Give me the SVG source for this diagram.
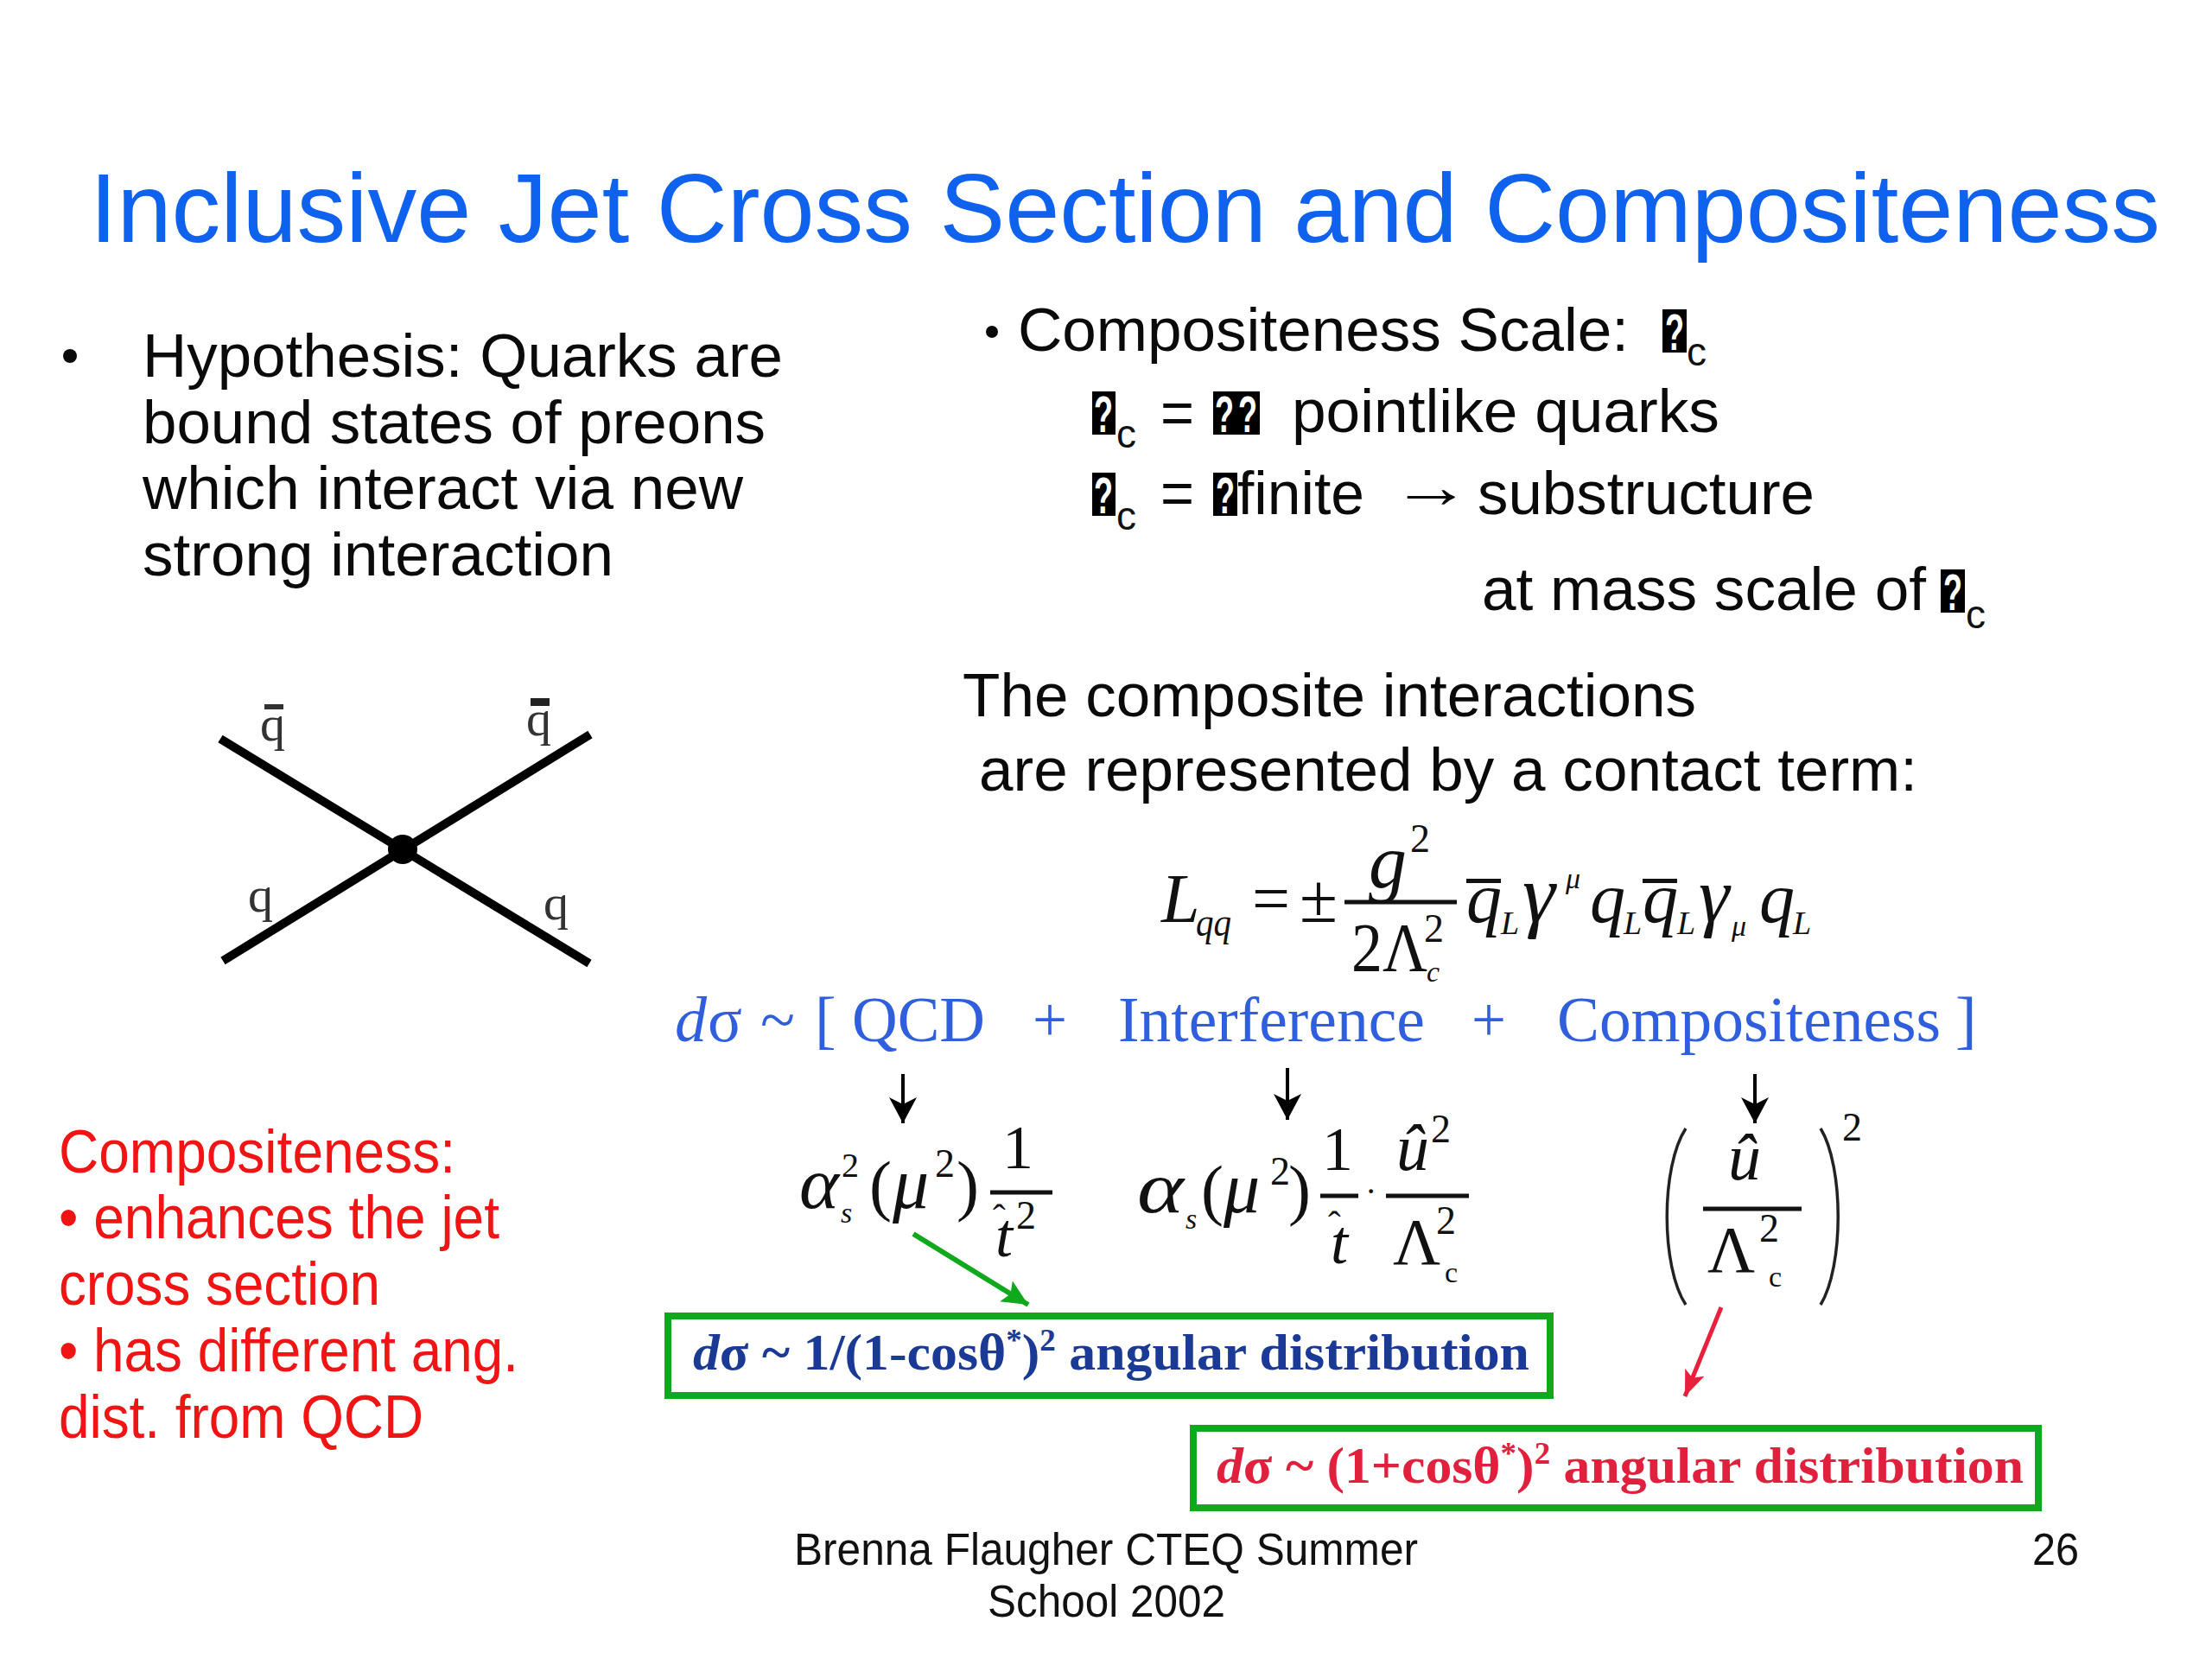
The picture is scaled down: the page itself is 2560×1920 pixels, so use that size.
<svg xmlns="http://www.w3.org/2000/svg" width="2560" height="1920" viewBox="0 0 2560 1920">
<style>
text{font-family:"Liberation Sans",Arial,sans-serif;white-space:pre}
.t{font-size:70px;fill:#0a0a0a}
.r{font-size:70px;fill:#f01414}
.f{font-size:51px;fill:#111}
.sub{font-size:46px;fill:#111}
.b{fill:#0a0a0a}
.q{font-size:60px;fill:#fff;font-weight:bold}
.m{font-size:80px;fill:#111}
.m text,.bl text,.bt{font-family:"Liberation Serif","Times New Roman",serif}
.i{font-style:italic}
.s1{font-size:46px}
.s2{font-size:34px}
.bl{font-size:74px;fill:#2f5fdc}
.box{fill:#fff;stroke:#10a81c;stroke-width:8}
.bt{font-size:60px;font-weight:bold}
.bar{stroke:#111;stroke-width:5;fill:none}
.pn{stroke:#222;stroke-width:3.5;fill:none}
</style>
<defs>
<marker id="ak" markerUnits="userSpaceOnUse" markerWidth="34" markerHeight="40" refX="30" refY="16" orient="auto"><path d="M0 0L30 16L0 32L8 16Z" fill="#000"/></marker>
<marker id="ag" markerUnits="userSpaceOnUse" markerWidth="36" markerHeight="36" refX="30" refY="14" orient="auto"><path d="M0 0L30 14L0 28L6 14Z" fill="#10a81c"/></marker>
<marker id="ar" markerUnits="userSpaceOnUse" markerWidth="34" markerHeight="34" refX="30" refY="12" orient="auto"><path d="M0 0L30 12L0 24L7 12Z" fill="#e8203c"/></marker>
</defs>
<rect width="2560" height="1920" fill="#fff"/>

<g id="title"><text x="104" y="280" font-size="114" fill="#0f62ee" textLength="2396" lengthAdjust="spacingAndGlyphs">Inclusive Jet Cross Section and Compositeness</text></g>

<g id="hypothesis">
<circle class="b" cx="81" cy="412" r="8"/>
<text class="t" x="165" y="436" textLength="741" lengthAdjust="spacingAndGlyphs">Hypothesis: Quarks are</text>
<text class="t" x="165" y="513" textLength="721" lengthAdjust="spacingAndGlyphs">bound states of preons</text>
<text class="t" x="165" y="589" textLength="695" lengthAdjust="spacingAndGlyphs">which interact via new</text>
<text class="t" x="165" y="666" textLength="545" lengthAdjust="spacingAndGlyphs">strong interaction</text>
</g>

<g id="scale">
<circle class="b" cx="1148" cy="384" r="7"/>
<text class="t" x="1178" y="406" textLength="707" lengthAdjust="spacingAndGlyphs">Compositeness Scale:</text>
<rect x="1924" y="358" width="28" height="50" fill="#000"/><text class="q" x="1927" y="405" textLength="22" lengthAdjust="spacingAndGlyphs">?</text>
<text class="sub" x="1952" y="423">c</text>

<rect x="1264" y="453" width="27" height="50" fill="#000"/><text class="q" x="1266" y="500" textLength="22" lengthAdjust="spacingAndGlyphs">?</text>
<text class="sub" x="1292" y="518">c</text>
<text class="t" x="1343" y="502" textLength="39" lengthAdjust="spacingAndGlyphs">=</text>
<rect x="1404" y="453" width="54" height="50" fill="#000"/><text class="q" x="1406" y="500" textLength="22" lengthAdjust="spacingAndGlyphs">?</text><text class="q" x="1433" y="500" textLength="22" lengthAdjust="spacingAndGlyphs">?</text>
<text class="t" x="1495" y="500" textLength="495" lengthAdjust="spacingAndGlyphs">pointlike quarks</text>

<rect x="1264" y="547" width="27" height="50" fill="#000"/><text class="q" x="1266" y="594" textLength="22" lengthAdjust="spacingAndGlyphs">?</text>
<text class="sub" x="1292" y="613">c</text>
<text class="t" x="1343" y="595" textLength="39" lengthAdjust="spacingAndGlyphs">=</text>
<rect x="1404" y="547" width="28" height="50" fill="#000"/><text class="q" x="1407" y="594" textLength="22" lengthAdjust="spacingAndGlyphs">?</text>
<text class="t" x="1432" y="595" textLength="147" lengthAdjust="spacingAndGlyphs">finite</text>
<text class="t" x="1610" y="587" textLength="93" lengthAdjust="spacingAndGlyphs">→</text>
<text class="t" x="1710" y="595" textLength="390" lengthAdjust="spacingAndGlyphs">substructure</text>

<text class="t" x="1715" y="706" textLength="514" lengthAdjust="spacingAndGlyphs">at mass scale of</text>
<rect x="2246" y="659" width="28" height="50" fill="#000"/><text class="q" x="2249" y="706" textLength="22" lengthAdjust="spacingAndGlyphs">?</text>
<text class="sub" x="2275" y="727">c</text>
</g>

<g id="contact">
<text class="t" x="1114" y="829" textLength="849" lengthAdjust="spacingAndGlyphs">The composite interactions</text>
<text class="t" x="1133" y="915" textLength="1086" lengthAdjust="spacingAndGlyphs">are represented by a contact term:</text>
</g>

<g id="feynman">
<g stroke="#000" stroke-width="10" fill="none">
<line x1="255" y1="855" x2="682" y2="1115"/>
<line x1="258" y1="1112" x2="683" y2="850"/>
</g>
<circle cx="466" cy="983" r="17" fill="#000"/>
<g class="m" style="font-size:58px;fill:#333">
<text x="301" y="857">q</text><rect x="306" y="815" width="22" height="6" fill="#333"/>
<text x="609" y="851">q</text><rect x="614" y="808" width="22" height="9" fill="#222"/>
<text x="287" y="1055">q</text>
<text x="629" y="1064">q</text>
</g>
</g>

<g id="lagrangian" class="m">
<text class="i" x="1344" y="1067" style="font-size:80px">L</text>
<text class="i s1" x="1384" y="1083" textLength="41" lengthAdjust="spacingAndGlyphs">qq</text>
<text x="1449" y="1067" textLength="44" lengthAdjust="spacingAndGlyphs">=</text>
<text x="1504" y="1067" textLength="44" lengthAdjust="spacingAndGlyphs">±</text>
<line class="bar" x1="1556" y1="1044" x2="1686" y2="1044"/>
<text class="i" x="1584" y="1027" style="font-size:88px">g</text>
<text class="s1" x="1632" y="986">2</text>
<text x="1564" y="1124" textLength="88" lengthAdjust="spacingAndGlyphs">2Λ</text>
<text class="s1" x="1648" y="1090">2</text>
<text class="i s2" x="1651" y="1136">c</text>
<rect x="1697" y="1017" width="40" height="5" fill="#111"/>
<text class="i" x="1697" y="1067" style="font-size:82px">q</text>
<text class="i s1" x="1737" y="1081" style="font-size:38px">L</text>
<text class="i" x="1762" y="1067" style="font-size:96px">γ</text>
<text class="i s2" x="1812" y="1028">μ</text>
<text class="i" x="1840" y="1067" style="font-size:82px">q</text>
<text class="i s1" x="1879" y="1081" style="font-size:38px">L</text>
<rect x="1901" y="1017" width="40" height="5" fill="#111"/>
<text class="i" x="1901" y="1067" style="font-size:82px">q</text>
<text class="i s1" x="1941" y="1081" style="font-size:38px">L</text>
<text class="i" x="1966" y="1067" style="font-size:90px">γ</text>
<text class="i s2" x="2004" y="1083">μ</text>
<text class="i" x="2036" y="1067" style="font-size:82px">q</text>
<text class="i s1" x="2075" y="1081" style="font-size:38px">L</text>
</g>

<g id="sum" class="bl">
<text class="i" x="781" y="1205">d</text><text x="819" y="1205">σ</text>
<text x="880" y="1205" textLength="40" lengthAdjust="spacingAndGlyphs">~</text>
<text x="943" y="1205">[</text>
<text x="986" y="1205" textLength="154" lengthAdjust="spacingAndGlyphs">QCD</text>
<text x="1195" y="1205" textLength="40" lengthAdjust="spacingAndGlyphs">+</text>
<text x="1294" y="1205" textLength="355" lengthAdjust="spacingAndGlyphs">Interference</text>
<text x="1703" y="1205" textLength="40" lengthAdjust="spacingAndGlyphs">+</text>
<text x="1802" y="1205" textLength="444" lengthAdjust="spacingAndGlyphs">Compositeness</text>
<text x="2263" y="1205">]</text>
</g>

<g id="connectors" fill="none">
<line x1="1045" y1="1243" x2="1045" y2="1300" stroke="#000" stroke-width="4" marker-end="url(#ak)"/>
<line x1="1490" y1="1236" x2="1490" y2="1296" stroke="#000" stroke-width="4" marker-end="url(#ak)"/>
<line x1="2031" y1="1243" x2="2031" y2="1300" stroke="#000" stroke-width="4" marker-end="url(#ak)"/>
<line x1="1057" y1="1428" x2="1190" y2="1510" stroke="#10a81c" stroke-width="6" marker-end="url(#ag)"/>
<line x1="1992" y1="1513" x2="1950" y2="1616" stroke="#e8203c" stroke-width="5" marker-end="url(#ar)"/>
</g>

<g id="term-qcd" class="m">
<text class="i" x="925" y="1398" textLength="46" lengthAdjust="spacingAndGlyphs" style="font-size:84px">α</text>
<text class="s1" x="974" y="1362" style="font-size:40px">2</text>
<text class="i s2" x="973" y="1415">s</text>
<text x="1006" y="1398" style="font-size:78px">(</text>
<text class="i" x="1033" y="1398" style="font-size:84px">μ</text>
<text class="s1" x="1082" y="1362">2</text>
<text x="1107" y="1398" style="font-size:78px">)</text>
<line class="bar" x1="1146" y1="1380" x2="1218" y2="1380"/>
<text x="1160" y="1352" style="font-size:72px">1</text>
<text class="i" x="1152" y="1454" style="font-size:72px">t</text>
<text x="1149" y="1424" style="font-size:44px">ˆ</text>
<text class="s1" x="1176" y="1422">2</text>
</g>

<g id="term-interference" class="m">
<text class="i" x="1316" y="1403" textLength="54" lengthAdjust="spacingAndGlyphs" style="font-size:84px">α</text>
<text class="i s2" x="1372" y="1422">s</text>
<text x="1390" y="1403" style="font-size:78px">(</text>
<text class="i" x="1416" y="1403" style="font-size:84px">μ</text>
<text class="s1" x="1470" y="1371">2</text>
<text x="1491" y="1403" style="font-size:78px">)</text>
<line class="bar" x1="1528" y1="1384" x2="1572" y2="1384"/>
<text x="1530" y="1354" style="font-size:72px">1</text>
<text class="i" x="1540" y="1462" style="font-size:72px">t</text>
<text x="1537" y="1432" style="font-size:44px">ˆ</text>
<text x="1580" y="1392" style="font-size:40px">·</text>
<line class="bar" x1="1604" y1="1384" x2="1700" y2="1384"/>
<text class="i" x="1616" y="1354" style="font-size:76px">û</text>
<text class="s1" x="1656" y="1322">2</text>
<text x="1612" y="1463" style="font-size:76px">Λ</text>
<text class="s1" x="1662" y="1428">2</text>
<text class="s2" x="1672" y="1484">c</text>
</g>

<g id="term-compositeness" class="m">
<path class="pn" d="M1951 1306C1922 1350 1922 1466 1951 1510"/>
<path class="pn" d="M2107 1306C2134 1350 2134 1466 2107 1510"/>
<text class="i" x="2000" y="1365" style="font-size:76px">û</text>
<line class="bar" x1="1971" y1="1399" x2="2085" y2="1399"/>
<text x="1976" y="1472" style="font-size:76px">Λ</text>
<text class="s1" x="2036" y="1437">2</text>
<text class="s2" x="2047" y="1489">c</text>
<text class="s1" x="2132" y="1320">2</text>
</g>

<g id="box-qcd">
<rect class="box" x="773" y="1523" width="1021" height="92"/>
<text class="bt" x="802" y="1585" fill="#1a3a96" textLength="968" lengthAdjust="spacingAndGlyphs"><tspan font-style="italic">d</tspan>σ ~ 1/(1-cosθ<tspan dy="-22" font-size="36">*</tspan><tspan dy="22">)</tspan><tspan dy="-22" font-size="36">2</tspan><tspan dy="22"> angular distribution</tspan></text>
</g>

<g id="box-comp">
<rect class="box" x="1381" y="1653" width="978" height="92"/>
<text class="bt" x="1408" y="1716" fill="#e0203c" textLength="934" lengthAdjust="spacingAndGlyphs"><tspan font-style="italic">d</tspan>σ ~ (1+cosθ<tspan dy="-22" font-size="36">*</tspan><tspan dy="22">)</tspan><tspan dy="-22" font-size="36">2</tspan><tspan dy="22"> angular distribution</tspan></text>
</g>

<g id="note">
<text class="r" x="68" y="1357" textLength="459" lengthAdjust="spacingAndGlyphs">Compositeness:</text>
<text class="r" x="68" y="1433" textLength="510" lengthAdjust="spacingAndGlyphs">• enhances the jet</text>
<text class="r" x="68" y="1510" textLength="372" lengthAdjust="spacingAndGlyphs">cross section</text>
<text class="r" x="68" y="1587" textLength="532" lengthAdjust="spacingAndGlyphs">• has different ang.</text>
<text class="r" x="68" y="1664" textLength="422" lengthAdjust="spacingAndGlyphs">dist. from QCD</text>
</g>

<g id="footer">
<text class="f" x="919" y="1811" textLength="722" lengthAdjust="spacingAndGlyphs">Brenna Flaugher CTEQ Summer</text>
<text class="f" x="1143" y="1871" textLength="275" lengthAdjust="spacingAndGlyphs">School 2002</text>
<text class="f" x="2352" y="1811" textLength="54" lengthAdjust="spacingAndGlyphs">26</text>
</g>
</svg>
